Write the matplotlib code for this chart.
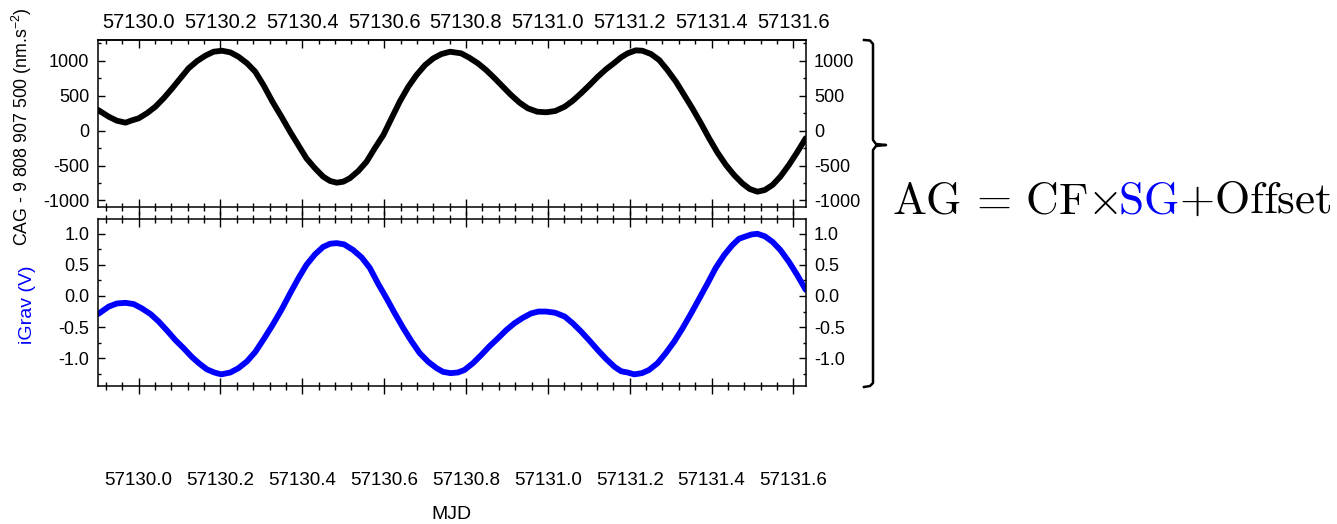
import matplotlib
matplotlib.use("Agg")
import matplotlib.pyplot as plt
from matplotlib.lines import Line2D
from matplotlib.ticker import MultipleLocator, FormatStrFormatter

plt.rcParams["font.family"] = ["Liberation Sans", "DejaVu Sans"]
plt.rcParams["axes.unicode_minus"] = False

# CAG (absolute gravimeter) residual, nm.s-2
cag_mjd = [57129.901, 57129.927, 57129.947, 57129.968, 57129.984, 57130.000,
           57130.020, 57130.041, 57130.061, 57130.082, 57130.102, 57130.122,
           57130.143, 57130.163, 57130.183, 57130.204, 57130.224, 57130.244,
           57130.265, 57130.285, 57130.305, 57130.327, 57130.349, 57130.370,
           57130.390, 57130.410, 57130.431, 57130.451, 57130.468, 57130.484,
           57130.500, 57130.516, 57130.537, 57130.557, 57130.577, 57130.598,
           57130.618, 57130.638, 57130.659, 57130.679, 57130.700, 57130.720,
           57130.740, 57130.761, 57130.788, 57130.808, 57130.829, 57130.849,
           57130.870, 57130.890, 57130.910, 57130.931, 57130.951, 57130.974,
           57130.996, 57131.018, 57131.041, 57131.061, 57131.081, 57131.102,
           57131.122, 57131.142, 57131.163, 57131.179, 57131.195, 57131.215,
           57131.231, 57131.252, 57131.272, 57131.292, 57131.313, 57131.333,
           57131.353, 57131.374, 57131.394, 57131.414, 57131.435, 57131.455,
           57131.475, 57131.493, 57131.512, 57131.530, 57131.549, 57131.568,
           57131.589, 57131.609, 57131.630]
cag_val = [297, 200, 143, 115, 149, 177,
           249, 344, 464, 607, 751, 894,
           999, 1075, 1132, 1146, 1123, 1060,
           966, 845, 655, 416, 201, -14,
           -205, -396, -539, -659, -721, -745,
           -731, -682, -577, -444, -252, -62,
           178, 416, 631, 798, 941, 1037,
           1099, 1132, 1109, 1046, 966, 870,
           751, 631, 512, 401, 321, 272,
           264, 282, 344, 430, 536, 655,
           774, 880, 975, 1052, 1109, 1152,
           1146, 1099, 1013, 870, 702, 512,
           321, 106, -109, -310, -491, -635,
           -754, -835, -874, -850, -778, -659,
           -491, -310, -109]

# iGrav superconducting gravimeter signal, V
igrav_mjd = [57129.901, 57129.927, 57129.947, 57129.968, 57129.988, 57130.008,
             57130.029, 57130.049, 57130.070, 57130.090, 57130.110, 57130.130,
             57130.149, 57130.167, 57130.185, 57130.202, 57130.224, 57130.244,
             57130.265, 57130.285, 57130.306, 57130.327, 57130.350, 57130.370,
             57130.390, 57130.410, 57130.431, 57130.451, 57130.468, 57130.484,
             57130.502, 57130.524, 57130.545, 57130.565, 57130.585, 57130.606,
             57130.626, 57130.647, 57130.667, 57130.687, 57130.708, 57130.728,
             57130.744, 57130.762, 57130.780, 57130.796, 57130.817, 57130.837,
             57130.857, 57130.878, 57130.898, 57130.918, 57130.939, 57130.959,
             57130.977, 57130.996, 57131.018, 57131.041, 57131.061, 57131.081,
             57131.102, 57131.122, 57131.142, 57131.163, 57131.179, 57131.195,
             57131.211, 57131.230, 57131.247, 57131.268, 57131.288, 57131.309,
             57131.329, 57131.350, 57131.370, 57131.390, 57131.410, 57131.431,
             57131.451, 57131.467, 57131.484, 57131.498, 57131.512, 57131.530,
             57131.549, 57131.568, 57131.589, 57131.609, 57131.630]
igrav_val = [-0.29, -0.17, -0.12, -0.11, -0.13, -0.20,
             -0.29, -0.41, -0.56, -0.71, -0.84, -0.98,
             -1.09, -1.18, -1.23, -1.26, -1.23, -1.16,
             -1.05, -0.90, -0.69, -0.47, -0.21, 0.04,
             0.28, 0.50, 0.67, 0.79, 0.84, 0.85,
             0.83, 0.74, 0.62, 0.45, 0.20, -0.04,
             -0.28, -0.52, -0.73, -0.92, -1.06, -1.16,
             -1.22, -1.24, -1.23, -1.19, -1.08, -0.95,
             -0.81, -0.68, -0.55, -0.44, -0.35, -0.28,
             -0.25, -0.25, -0.27, -0.33, -0.44, -0.57,
             -0.72, -0.87, -1.01, -1.14, -1.21, -1.23,
             -1.26, -1.24, -1.19, -1.08, -0.92, -0.73,
             -0.52, -0.28, -0.04, 0.20, 0.45, 0.66,
             0.82, 0.92, 0.96, 0.99, 1.00, 0.96,
             0.87, 0.74, 0.55, 0.34, 0.10]

W, H = 1337, 524
fig = plt.figure(figsize=(W / 100, H / 100), dpi=100)


def fx(px):
    return px / W


def fy(py):
    return 1 - py / H


ax_top = fig.add_axes([fx(97.7), fy(207.3), (805.7 - 97.7) / W, (207.3 - 40) / H])
ax_bot = fig.add_axes([fx(97.7), fy(386), (805.7 - 97.7) / W, (386 - 219.3) / H])

ax_top.plot(cag_mjd, cag_val, color="black", lw=4.2, solid_capstyle="round",
            solid_joinstyle="round")
ax_bot.plot(igrav_mjd, igrav_val, color="#0000ff", lw=4.2, solid_capstyle="round",
            solid_joinstyle="round")

ax_top.set_ylim(-1098, 1300)
ax_bot.set_ylim(-1.447, 1.233)

for ax in (ax_top, ax_bot):
    ax.set_xlim(57129.9, 57131.63)
    ax.xaxis.set_major_locator(MultipleLocator(0.2))
    ax.xaxis.set_minor_locator(MultipleLocator(0.04))
    ax.xaxis.set_major_formatter(FormatStrFormatter("%.1f"))
    for sp in ax.spines.values():
        sp.set_linewidth(1.1)
    ax.tick_params(axis="y", which="both", direction="in", left=True, right=True,
                   labelleft=True, labelright=True, width=1, colors="black")
    ax.tick_params(axis="y", which="major", length=5, pad=6, labelsize=13)
    ax.tick_params(axis="y", which="minor", length=2.5)
    ax.tick_params(axis="x", which="both", direction="inout", top=True, bottom=True, width=1)
    ax.tick_params(axis="x", which="major", length=12)
    ax.tick_params(axis="x", which="minor", length=6)

ax_top.yaxis.set_major_locator(MultipleLocator(500))
ax_top.yaxis.set_minor_locator(MultipleLocator(250))
ax_top.yaxis.set_major_formatter(FormatStrFormatter("%d"))
ax_bot.yaxis.set_major_locator(MultipleLocator(0.5))
ax_bot.yaxis.set_minor_locator(MultipleLocator(0.25))
ax_bot.yaxis.set_major_formatter(FormatStrFormatter("%.1f"))

# top panel: labels above, short inward ticks on the top edge
ax_top.tick_params(axis="x", which="both", top=False, labelbottom=False, labeltop=False)
sec = ax_top.secondary_xaxis("top")
sec.xaxis.set_major_locator(MultipleLocator(0.2))
sec.xaxis.set_minor_locator(MultipleLocator(0.04))
sec.xaxis.set_major_formatter(FormatStrFormatter("%.1f"))
sec.spines["top"].set_linewidth(1.1)
sec.tick_params(axis="x", which="both", direction="in", width=1)
sec.tick_params(axis="x", which="major", length=5.5, pad=6, labelsize=14.5)
sec.tick_params(axis="x", which="minor", length=3)

# bottom panel: labels far below
ax_bot.tick_params(axis="x", which="major", pad=56, labelsize=13.5)
ax_bot.set_xlabel("MJD", fontsize=14, labelpad=12)

fig.text(fx(22), fy(127), r"CAG - 9 808 907 500 (nm.s$^{\mathregular{-2}}$)",
         rotation=90, ha="center", va="center", fontsize=12.8)
fig.text(fx(27), fy(305), "iGrav (V)", rotation=90, ha="center", va="center",
         fontsize=14, color="#0000ff")

# curly brace on the right
bx = [864, 870, 873, 873, 876, 886, 876, 873, 873, 870, 864]
by = [40, 40.5, 44, 140, 144, 145, 146, 150, 383, 386, 387]
fig.add_artist(Line2D([fx(v) for v in bx], [fy(v) for v in by], color="black",
                      lw=1.8, transform=fig.transFigure))

# equation, SG in blue
renderer = fig.canvas.get_renderer()
pieces = [(r"$\mathrm{AG}\,=\,\mathrm{CF}{\times}$", "black"),
          (r"$\mathrm{SG}$", "#0000ff"),
          (r"$+\mathrm{Offset}$", "black")]
xpos = fx(892)
for s, c in pieces:
    t = fig.text(xpos, fy(213), s, color=c, fontsize=32.6, math_fontfamily="cm",
                 ha="left", va="baseline")
    bb = t.get_window_extent(renderer)
    xpos = bb.x1 / fig.bbox.width

fig.savefig("out.png", dpi=100)
